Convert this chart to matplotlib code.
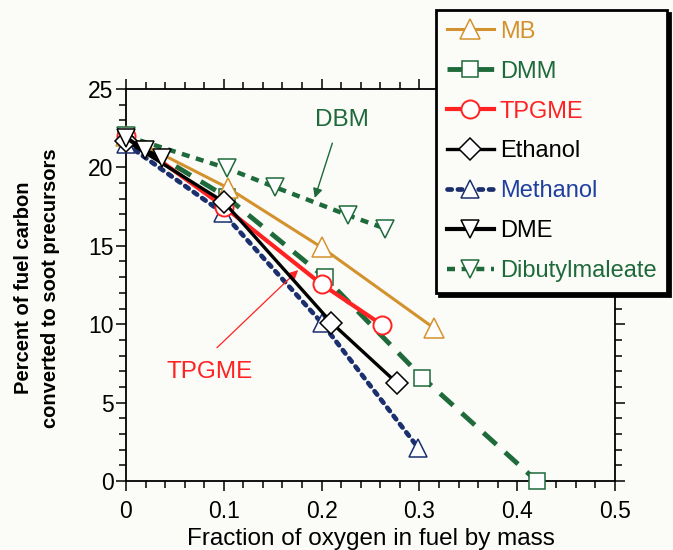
import matplotlib.pyplot as plt
from matplotlib.ticker import MultipleLocator

plt.rcParams['font.family'] = ['Liberation Sans', 'DejaVu Sans']

# fraction of oxygen in fuel (x) and percent of fuel carbon to soot precursors (y)
mb_x = [0.0, 0.104, 0.20, 0.315]
mb_y = [22.0, 18.7, 14.9, 9.75]

dmm_x = [0.0, 0.103, 0.203, 0.303, 0.42]
dmm_y = [22.0, 18.1, 13.0, 6.6, 0.0]

tpgme_x = [0.0, 0.10, 0.20, 0.262]
tpgme_y = [22.0, 17.5, 12.55, 9.95]

ethanol_x = [0.0, 0.10, 0.21, 0.277]
ethanol_y = [21.7, 17.8, 10.1, 6.25]

methanol_x = [0.0, 0.099, 0.20, 0.299]
methanol_y = [21.5, 17.1, 10.1, 2.1]

dme_x = [0.0, 0.019, 0.037]
dme_y = [21.9, 21.1, 20.6]

dbm_x = [0.0, 0.103, 0.152, 0.227, 0.265]
dbm_y = [22.0, 19.95, 18.75, 16.95, 16.1]

orange = '#D4922E'
green = '#1E6A3A'
red = '#FF2222'
navy = '#1B2F6E'
bg = '#FBFBF8'

fig = plt.figure(figsize=(6.73, 5.50), dpi=100)
fig.patch.set_facecolor(bg)
ax = fig.add_axes([126/673, 69/550, 489/673, 392/550])
ax.set_facecolor(bg)

ms = dict(markerfacecolor='white', clip_on=False)
ax.plot(methanol_x, methanol_y, color=navy, lw=3.4, ls=(0, (0.9, 1.3)), dash_capstyle='round',
        marker='^', ms=13, mew=1.1, markeredgecolor=navy, label='Methanol', zorder=3, **ms)
ax.plot(dmm_x, dmm_y, color=green, lw=3.5, ls=(0, (3.6, 2.4)), marker='s', ms=12, mew=1.1,
        markeredgecolor=green, label='DMM', zorder=3, **ms)
ax.plot(mb_x, mb_y, color=orange, lw=2.2, marker='^', ms=14, mew=1.1,
        markeredgecolor=orange, label='MB', zorder=4, **ms)
ax.plot(tpgme_x, tpgme_y, color=red, lw=3.0, marker='o', ms=13, mew=1.4,
        markeredgecolor=red, label='TPGME', zorder=4, **ms)
ax.plot(ethanol_x, ethanol_y, color='black', lw=2.4, marker='D', ms=11, mew=1.1,
        markeredgecolor='black', label='Ethanol', zorder=5, **ms)
ax.plot(dme_x, dme_y, color='black', lw=3.0, marker='v', ms=13, mew=1.1,
        markeredgecolor='black', label='DME', zorder=6, **ms)
ax.plot(dbm_x, dbm_y, color=green, lw=3.2, ls=(0, (1.8, 1.5)), marker='v', ms=13, mew=1.1,
        markeredgecolor=green, label='Dibutylmaleate', zorder=4, **ms)

# annotations
ax.text(0.221, 23.0, 'DBM', ha='center', va='center', fontsize=17.5, color=green)
ax.annotate('', xy=(0.193, 18.05), xytext=(0.211, 21.55),
            arrowprops=dict(arrowstyle='-|>', color=green, lw=1.0, shrinkA=0, shrinkB=0,
                            mutation_scale=14))
ax.text(0.086, 6.95, 'TPGME', ha='center', va='center', fontsize=17.5, color=red)
ax.annotate('', xy=(0.176, 13.45), xytext=(0.093, 8.5),
            arrowprops=dict(arrowstyle='-|>', color=red, lw=0.9, shrinkA=0, shrinkB=0,
                            mutation_scale=14))

ax.set_xlim(0, 0.5)
ax.set_ylim(0, 25)
ax.set_xticks([0, 0.1, 0.2, 0.3, 0.4, 0.5])
ax.set_xticklabels(['0', '0.1', '0.2', '0.3', '0.4', '0.5'])
ax.xaxis.set_minor_locator(MultipleLocator(0.02))
ax.yaxis.set_major_locator(MultipleLocator(5))
ax.yaxis.set_minor_locator(MultipleLocator(1))
ax.tick_params(which='both', direction='out', top=True, right=True, labelsize=16.5, width=1.1)
ax.tick_params(which='major', length=7.5)
ax.tick_params(which='minor', length=5)
ax.tick_params(axis='x', which='major', pad=6)
ax.tick_params(axis='y', which='major', pad=1.5)
for s in ax.spines.values():
    s.set_linewidth(1.3)

ax.set_xlabel('Fraction of oxygen in fuel by mass', fontsize=17.5, labelpad=4)
fig.text(37/673, 1 - 288/550, 'Percent of fuel carbon\nconverted to soot precursors',
         rotation=90, ha='center', va='center', fontsize=14.5, fontweight='bold',
         linespacing=1.55)

handles, labels = ax.get_legend_handles_labels()
order = ['MB', 'DMM', 'TPGME', 'Ethanol', 'Methanol', 'DME', 'Dibutylmaleate']
hmap = dict(zip(labels, handles))
leg = fig.legend([hmap[k] for k in order], order, loc='upper right',
                 bbox_to_anchor=(667/673, 1 - 10/550), fontsize=17, frameon=True,
                 fancybox=False, shadow={'color': 'black', 'alpha': 1},
                 edgecolor='black', facecolor=bg, framealpha=1,
                 handlelength=2.0, handletextpad=0.25, labelspacing=0.76,
                 borderpad=0.45, borderaxespad=0)
leg.get_frame().set_linewidth(2)
text_colors = [orange, green, red, 'black', '#2040A0', 'black', green]
for t, c in zip(leg.get_texts(), text_colors):
    t.set_color(c)

fig.savefig('out.png', dpi=100, facecolor=fig.get_facecolor())
